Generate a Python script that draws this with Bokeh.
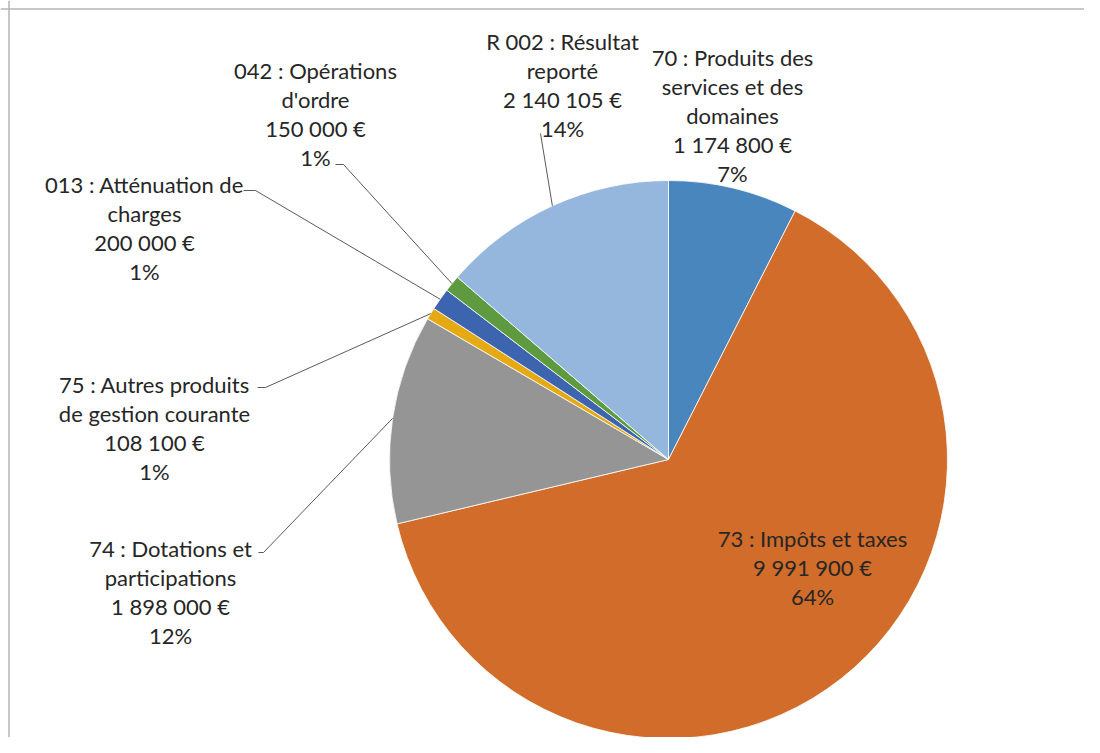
import math
from bokeh.plotting import figure
from bokeh.models import Range1d, ColumnDataSource, Span
from bokeh.core.properties import value
from bokeh.embed import file_html
from bokeh.resources import INLINE

# ---------------- data ----------------
label_lines = [
    ["70 : Produits des", "services et des", "domaines"],
    ["73 : Impôts et taxes"],
    ["74 : Dotations et", "participations"],
    ["75 : Autres produits", "de gestion courante"],
    ["013 : Atténuation de", "charges"],
    ["042 : Opérations", "d'ordre"],
    ["R 002 : Résultat", "reporté"],
]
values = [1174800, 9991900, 1898000, 108100, 200000, 150000, 2140105]
pct_labels = ["7%", "64%", "12%", "1%", "1%", "1%", "14%"]
colors = ["#4A86BE", "#D16C2A", "#959595", "#E5A913", "#3C64AF", "#5E9B40", "#95B7DD"]

# ---------------- layout (screen pixels, y downward) ----------------
W, H = 1084, 737
CX, CY, R = 668, 459, 279
label_pos = [(732, 57), (812, 538), (170, 548), (154, 384), (144, 184), (315, 70), (562, 41)]
leader_start = [None, None, [(258, 552), (263, 552)], [(257, 387), (265, 387)],
                [(243, 190), (255, 190)], [(335, 164), (343, 164)], [(540, 133)]]
LINE_H = 29
FONT = "Lato"
FSIZE = "22px"
TXT = "#262626"
BORDER = 8


def fy(py):
    return H - py


total = float(sum(values))
starts, ends, mids = [], [], []
cum = 0.0
for v in values:
    a0 = math.pi / 2 - 2 * math.pi * cum / total
    cum += v
    a1 = math.pi / 2 - 2 * math.pi * cum / total
    starts.append(a0)
    ends.append(a1)
    mids.append((a0 + a1) / 2)

p = figure(width=W, height=H, output_backend="svg", toolbar_location=None,
           x_range=Range1d(0, W), y_range=Range1d(0, H),
           min_border=0, outline_line_color=None, background_fill_color="white")
p.axis.visible = False
p.grid.visible = False

wsrc = ColumnDataSource(dict(start=starts, end=ends, color=colors))
p.wedge(x=CX, y=fy(CY), radius=R, start_angle="start", end_angle="end",
        direction="clock", fill_color="color", line_color="white", line_width=0.8,
        source=wsrc)

# leader lines
xs, ys = [], []
for i, pts in enumerate(leader_start):
    if pts is None:
        continue
    ex = CX + R * math.cos(mids[i])
    ey = fy(CY) + R * math.sin(mids[i])
    xs.append([q[0] for q in pts] + [ex])
    ys.append([fy(q[1]) for q in pts] + [ey])
p.multi_line(xs=xs, ys=ys, line_color="#595959", line_width=1)

# labels
tx, ty, tt = [], [], []
for i, lines in enumerate(label_lines):
    vtxt = f"{values[i]:,}".replace(",", " ") + " €"
    all_lines = lines + [vtxt, pct_labels[i]]
    lx, ly = label_pos[i]
    for k, s in enumerate(all_lines):
        tx.append(lx)
        ty.append(fy(ly + k * LINE_H))
        tt.append(s)
tsrc = ColumnDataSource(dict(x=tx, y=ty, text=tt))
p.text(x="x", y="y", text="text", source=tsrc, text_align="center",
       text_baseline="middle", text_font=value(FONT), text_font_size=FSIZE,
       text_color=TXT)

# chart border (top & left visible)
p.add_layout(Span(location=BORDER + 0.5, dimension="height", line_color="#B4B4B4", line_width=1.5))
p.add_layout(Span(location=fy(BORDER + 0.5), dimension="width", line_color="#B4B4B4", line_width=1.5))

open("out.html", "w").write(file_html(p, INLINE))
